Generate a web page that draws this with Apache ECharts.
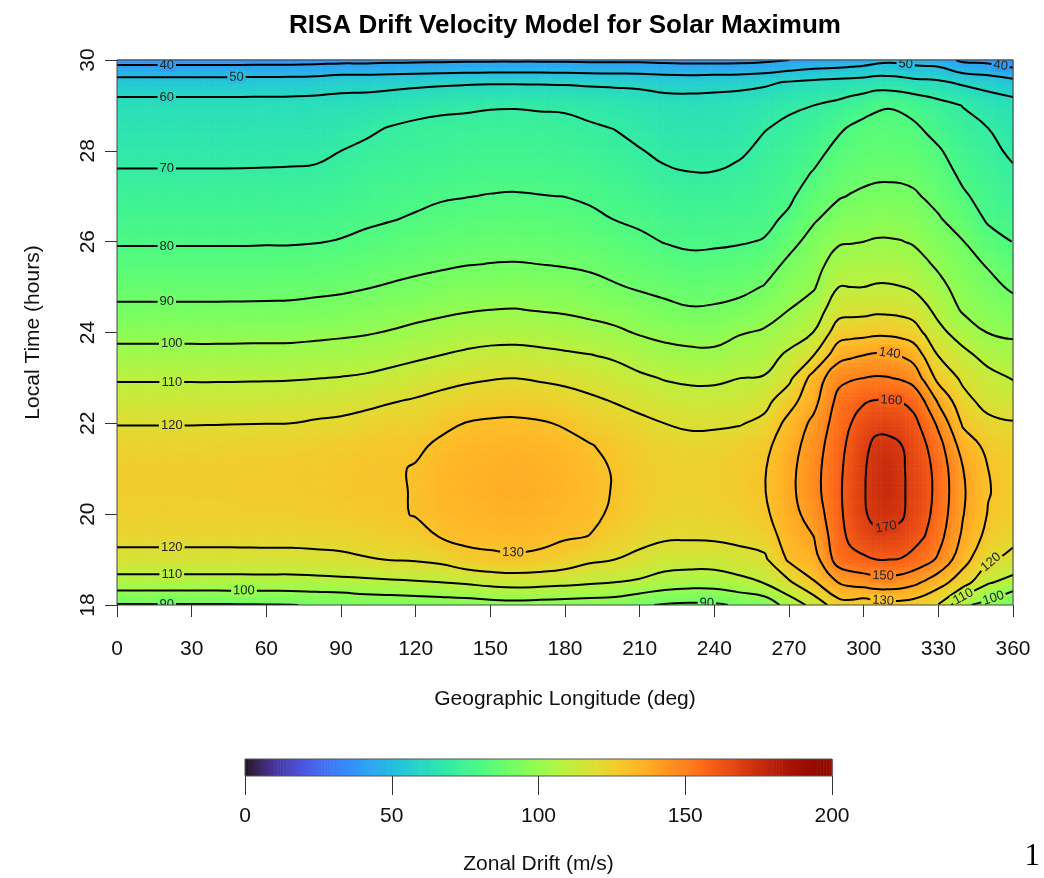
<!DOCTYPE html>
<html>
<head>
<meta charset="utf-8">
<title>RISA Drift Velocity Model for Solar Maximum</title>
<script src="https://cdn.jsdelivr.net/npm/echarts@6/dist/echarts.min.js"></script>
<style>
  html, body { margin: 0; padding: 0; background: #ffffff; }
  #chart { width: 1044px; height: 878px; }
</style>
</head>
<body>
<div id="chart"></div>
<script>
// Grid columns: geographic longitude (deg); finer spacing across the evening peak
const longitudes = [0, 10, 20, 30, 40, 50, 60, 70, 80, 90, 100, 110, 120, 130, 140, 150, 160, 170, 180,
                    190, 200, 210, 220, 230, 240, 250, 260, 270, 280, 290, 295, 300, 305, 310, 315, 320,
                    325, 330, 340, 350, 360];

// Grid rows: local time (hours)
const localTimes = [18, 18.5, 19, 19.5, 20, 20.5, 21, 21.5, 22, 22.5, 23, 23.5, 24,
                    24.5, 25, 25.5, 26, 26.5, 27, 27.5, 28, 28.5, 29, 29.5, 30];

// Zonal drift (m/s); one row per longitude, one value per local time (18 h ... 30 h)
const zonalDrift = [
  [89.3, 106.2, 117, 122.5, 125, 126, 126, 124, 119.6, 114.4, 109, 102.9, 97.1, 91.6, 87.1, 83, 79.3, 76.4, 73.6, 70.7, 67.6, 65.4, 63.2, 54.5, 35.9],
  [89.3, 106.2, 117, 122.5, 125, 126, 126, 124, 119.6, 114.4, 109, 102.9, 97.1, 91.6, 87.1, 83, 79.3, 76.4, 73.6, 70.7, 67.6, 65.4, 63.2, 54.5, 35.9],
  [89.3, 106.2, 117, 122.5, 125, 126, 126, 124, 119.6, 114.4, 109, 102.9, 97.1, 91.6, 87.1, 83, 79.3, 76.4, 73.6, 70.7, 67.6, 65.4, 63.2, 54.5, 35.9],
  [89.3, 106.2, 117, 122.5, 125, 126, 126, 124, 119.6, 114.4, 109, 102.9, 97.1, 91.6, 87.1, 83, 79.3, 76.4, 73.6, 70.7, 67.6, 65.4, 63.2, 54.5, 35.9],
  [89.3, 106.2, 117, 122.5, 125.1, 126.1, 126.1, 124.1, 119.7, 114.4, 109, 102.9, 97.1, 91.6, 87.1, 83, 79.3, 76.4, 73.6, 70.7, 67.6, 65.4, 63.2, 54.5, 36],
  [89.4, 106.2, 117, 122.6, 125.2, 126.3, 126.3, 124.3, 119.8, 114.5, 109.1, 103, 97.2, 91.7, 87.1, 83, 79.3, 76.4, 73.6, 70.7, 67.7, 65.5, 63.2, 54.6, 36],
  [89.6, 106.3, 117.1, 122.7, 125.4, 126.6, 126.6, 124.6, 119.9, 114.6, 109.2, 103.1, 97.2, 91.8, 87.2, 83.1, 79.4, 76.5, 73.7, 70.8, 67.8, 65.6, 63.3, 54.7, 36.1],
  [89.8, 106.3, 117, 122.8, 125.5, 126.8, 126.8, 124.8, 120, 114.7, 109.4, 103.2, 97.3, 92, 87.3, 83.2, 79.4, 76.6, 73.8, 70.9, 68, 65.7, 63.4, 54.8, 36.2],
  [90.5, 106.8, 117.5, 123, 126, 127.3, 127.3, 125.5, 121, 115.3, 109.8, 103.7, 97.9, 92.6, 87.9, 83.7, 79.7, 76.9, 74.1, 71.2, 68.3, 66, 63.5, 55.5, 36.5],
  [91, 107.4, 118, 123.5, 126.5, 128, 128, 126.3, 121.8, 116, 110.3, 104.3, 98.5, 93.3, 88.5, 84.5, 80.4, 77.7, 75.1, 72.6, 70, 66.8, 63.5, 57, 37],
  [93, 107.8, 119.3, 124.5, 127.5, 129, 129, 127.5, 123.5, 117.4, 111.2, 105.2, 99.3, 94.4, 89.6, 85.7, 81.7, 78.7, 76.3, 74, 71.6, 68.5, 64, 57, 37],
  [93.3, 108.5, 120.3, 125.5, 128.3, 128.9, 128.9, 128.3, 125, 119.3, 112.9, 106.6, 100.6, 95.6, 90.8, 86.9, 83.1, 79.6, 77.3, 75, 72.8, 70.5, 65, 57.5, 37.5],
  [94, 109.2, 120.9, 126.2, 130.6, 130.5, 130.6, 128.5, 124.6, 120.8, 114.7, 108.3, 102.2, 96.9, 92, 87.9, 84.4, 80.8, 78.2, 75.8, 73.4, 72, 66.5, 58, 37.8],
  [94.5, 110, 122.4, 130.3, 132.8, 133.5, 133.3, 131.5, 128, 122.7, 116.7, 110, 103.7, 98.1, 93.2, 88.8, 85.4, 82, 79.3, 76.5, 74, 72.5, 68, 58.5, 38],
  [95, 111.3, 126.5, 132.5, 134, 135, 134.8, 133.3, 130.2, 124.4, 118.3, 111.6, 105.3, 99.2, 94.4, 89.7, 86.3, 83, 79.8, 77.3, 74.9, 72.8, 68.5, 59, 38.3],
  [96, 113, 128.2, 132.5, 135, 136, 135.8, 134.3, 131.2, 125.5, 119.4, 112.7, 106.3, 100, 95.1, 90.2, 86.9, 83.6, 80.3, 77.7, 75.2, 73, 69.3, 59.3, 38.5],
  [96.5, 114, 128.7, 133, 135.5, 136.5, 136.3, 134.8, 131.5, 126, 119.9, 112.9, 106.6, 100.3, 95.3, 90.4, 87, 83.8, 80.5, 77.9, 75.3, 73.1, 69.4, 59.3, 38.5],
  [96, 113.5, 127.8, 132.5, 135, 136, 135.8, 134.2, 130.8, 125, 118.9, 112.3, 105.8, 99.5, 94.8, 90, 86.7, 83.5, 80.2, 77.6, 75, 72.8, 69, 59.2, 38.5],
  [95.5, 112.5, 125.5, 130.8, 133.5, 134.5, 134.2, 132.5, 129.2, 123.5, 117.9, 111.3, 104.8, 98.8, 94.1, 89.4, 86.2, 83.1, 79.9, 77.2, 74.6, 72.3, 68.8, 59, 38.3],
  [95, 111.3, 121.7, 129.8, 131.6, 132.2, 132, 130.5, 126.5, 121.7, 115.9, 110.3, 103.3, 97.6, 92.8, 88.5, 85.2, 81.7, 78.8, 76.2, 73.5, 71, 67.5, 58.5, 38],
  [94.5, 110, 120, 125.5, 128.8, 129.5, 129.4, 128, 124.5, 119.4, 114.2, 108.6, 101.7, 96.1, 90.8, 87, 83.4, 79.8, 77.3, 74.8, 72.3, 69.8, 66.5, 58.2, 38],
  [91, 108.6, 117.5, 123, 125.8, 127, 126.9, 125.5, 122.2, 117, 111.6, 105.5, 99.2, 94, 89.1, 85.5, 81.6, 78.5, 75.7, 73, 70.3, 68.2, 65.5, 57.8, 38],
  [89.3, 105.6, 114.9, 121.2, 123.8, 125, 125, 123.8, 120, 114.7, 109.4, 103.2, 97.5, 92.2, 87.7, 83.7, 79.7, 76.9, 74.1, 70.8, 68.8, 66.4, 64, 56.7, 37.5],
  [88.5, 104.3, 114.4, 121, 123.4, 124.5, 124.4, 123, 118.6, 113.6, 108.3, 102.2, 96.4, 90.7, 86.4, 82.2, 78.7, 75.9, 73, 70.2, 68, 65.8, 63.8, 56.5, 37],
  [88.8, 104.5, 114.5, 121.3, 124, 125.3, 125.2, 123.5, 118.6, 113.6, 108.3, 102, 96.6, 91.1, 86.7, 82.5, 78.9, 76.2, 73.4, 70.2, 68.2, 66, 64, 57, 37],
  [91, 107.2, 116.3, 122.5, 125.5, 127, 127, 125.2, 119.3, 114.6, 109.9, 104.7, 99.3, 92.8, 87.5, 84.1, 79.3, 76.8, 74, 71.6, 68.9, 66.6, 64.5, 57.5, 37],
  [93.5, 110.3, 118, 124.5, 128, 129.5, 129.3, 127.5, 122.3, 116.8, 110.6, 105.8, 101.1, 95.5, 90.5, 85.5, 80.5, 77.8, 75.5, 73.3, 71.7, 69.6, 66.5, 58.5, 38],
  [104, 118.5, 131.5, 134.5, 136.5, 137.5, 137.2, 135.7, 133.1, 126, 117.6, 111.8, 105, 100, 96.5, 92.1, 87, 81.5, 78.5, 76.2, 73.9, 71.6, 68.8, 61, 40],
  [113, 129.5, 135.5, 140, 144, 146.5, 146.5, 145, 142.3, 137, 134, 120, 110.2, 104.6, 99.2, 96.5, 93.5, 89, 84.5, 80.7, 77, 73.5, 70, 62.5, 42],
  [126, 140.5, 155, 157, 158, 158.5, 158, 157, 155, 153, 147.5, 136.5, 125.5, 116.3, 110, 104.4, 99, 94, 89.3, 86, 82.7, 78.7, 72.3, 63.5, 43],
  [126, 143, 157.5, 162, 164, 164.5, 164, 162.5, 160, 156.5, 149, 138.5, 126.5, 116.8, 110, 104.8, 99.5, 94.8, 90.5, 87, 83.8, 81, 74.3, 64, 44],
  [124, 144.5, 158.5, 165.5, 169, 169.3, 169.1, 167.5, 164.5, 159, 150, 140, 127, 117, 110, 105, 100, 95.5, 91.5, 87.8, 84.8, 83, 76, 64.5, 45],
  [126, 146, 160, 168, 172.5, 174, 173.5, 172.5, 167, 160.3, 150.8, 141.3, 128, 118, 110.8, 105.8, 100.7, 96.3, 92.2, 88.5, 85.5, 83.5, 78.5, 65.5, 47],
  [126.5, 146, 160, 167.8, 173, 176, 175.5, 172.5, 167, 160.2, 150.4, 141.3, 127.8, 117.8, 110.8, 105.8, 100.7, 96.5, 92.3, 88.6, 85.6, 83, 79.5, 65, 48],
  [126.5, 145, 159.5, 167, 171.5, 171.5, 171.5, 170.5, 165.5, 159.8, 149, 139.5, 126.8, 117.2, 110.2, 105.2, 100.3, 96.2, 92, 88.5, 85.4, 82.6, 78.8, 64.3, 47.5],
  [125.5, 142.5, 157, 163.5, 166.3, 167.2, 166.8, 165, 162.5, 157.2, 146, 136.5, 124.5, 115.8, 108.8, 103.8, 99.2, 95.2, 91.2, 87.8, 84.7, 81.5, 77, 63, 46],
  [123, 138.5, 153.5, 159.5, 162.3, 163.2, 162.7, 160.5, 156.5, 148.8, 137, 128, 118.5, 111.7, 105.8, 101.2, 97, 93, 89.3, 86, 82.9, 79.2, 75, 62.5, 45.5],
  [119.5, 134, 148.5, 153.5, 156, 157, 156.5, 154, 148, 138.5, 127, 119.5, 112.7, 107.3, 102.7, 98.5, 94.6, 90.8, 87.4, 84.2, 81, 76.6, 73, 61.9, 45],
  [101.5, 124.6, 133.5, 138, 140.3, 141, 140, 135.5, 128.5, 123, 118, 112.7, 105.5, 98.7, 95.9, 93, 90.2, 85.7, 81.2, 78, 75.2, 72.5, 69.7, 58.6, 38],
  [97, 111, 121.8, 127, 129.5, 130.5, 130, 127.5, 122.5, 116.4, 113.2, 106.5, 99.7, 95.3, 92.5, 89.3, 83.4, 78.8, 76.6, 74.4, 72.2, 70, 65.6, 56.5, 37],
  [89.5, 106.8, 116.8, 122.8, 125.3, 126.3, 126.3, 124.5, 120.6, 115.1, 109.4, 103.8, 98.4, 93.3, 88.7, 84.2, 79.8, 77, 74.2, 71.2, 68.5, 66.1, 63.8, 53.5, 33]
];

// Contour levels (m/s)
const contourLevels = [40, 50, 60, 70, 80, 90, 100, 110, 120, 130, 140, 150, 160, 170];

// Where each contour label sits: [level, longitude, local time]
const contourLabelSpots = [
  [40, 20, 29.88], [50, 48, 29.62], [60, 20, 29.18], [70, 20, 27.62], [80, 20, 25.87],
  [90, 20, 24.64], [100, 22, 23.74], [110, 22, 22.92], [120, 22, 21.96], [120, 22, 19.25],
  [110, 22, 18.64], [100, 51, 18.27], [90, 20, 18.0], [130, 159, 19.12], [90, 237, 18.03],
  [50, 317, 29.95], [40, 355, 29.88], [140, 310.6, 23.57], [160, 311, 22.4], [170, 309, 19.7],
  [150, 307.8, 18.6], [130, 307.8, 18.11], [120, 349.6, 19.14], [110, 338, 18.4], [100, 352, 18.17]
];

// Colour scale range of the drift (m/s)
const driftRange = [0, 200];

const FONT = '"Liberation Sans", Arial, Helvetica, sans-serif';

// Turbo colour map (polynomial fit), t in [0, 1]
function turbo(t) {
  const x = Math.max(0, Math.min(1, t));
  const r = 0.13572138 + x * (4.61539260 + x * (-42.66032258 + x * (132.13108234 + x * (-152.94239396 + x * 59.28637943))));
  const g = 0.09140261 + x * (2.19418839 + x * (4.84296658 + x * (-14.18503333 + x * (4.27729857 + x * 2.82956604))));
  const b = 0.10667330 + x * (12.64194608 + x * (-60.58204836 + x * (110.36276771 + x * (-89.90310912 + x * 27.34824973))));
  const c = v => Math.round(255 * Math.max(0, Math.min(1, v)));
  return 'rgb(' + c(r) + ',' + c(g) + ',' + c(b) + ')';
}
function driftColor(v) {
  return turbo((v - driftRange[0]) / (driftRange[1] - driftRange[0]));
}

// Marching squares: trace the iso-lines of one level through the drift grid
function traceLevel(level) {
  const nx = longitudes.length, ny = localTimes.length;
  const crossPts = {};
  const segs = [];
  const val = (i, j) => zonalDrift[i][j];
  function edge(id, i0, j0, i1, j1) {
    if (!crossPts[id]) {
      const a = val(i0, j0), b = val(i1, j1);
      const f = (level - a) / (b - a);
      crossPts[id] = [
        longitudes[i0] + f * (longitudes[i1] - longitudes[i0]),
        localTimes[j0] + f * (localTimes[j1] - localTimes[j0])
      ];
    }
    return id;
  }
  for (let i = 0; i < nx - 1; i++) {
    for (let j = 0; j < ny - 1; j++) {
      const c = [val(i, j), val(i + 1, j), val(i + 1, j + 1), val(i, j + 1)];
      const hi = c.map(v => v >= level);
      const ends = [
        ['h' + i + '_' + j, i, j, i + 1, j],
        ['v' + (i + 1) + '_' + j, i + 1, j, i + 1, j + 1],
        ['h' + i + '_' + (j + 1), i, j + 1, i + 1, j + 1],
        ['v' + i + '_' + j, i, j, i, j + 1]
      ];
      const crossing = [0, 1, 2, 3].filter(k => hi[k] !== hi[(k + 1) % 4]);
      if (crossing.length === 2) {
        segs.push([edge(...ends[crossing[0]]), edge(...ends[crossing[1]])]);
      } else if (crossing.length === 4) {
        const centreHi = (c[0] + c[1] + c[2] + c[3]) / 4 >= level;
        for (let k = 0; k < 4; k++) {
          if (hi[k] !== centreHi) segs.push([edge(...ends[(k + 3) % 4]), edge(...ends[k])]);
        }
      }
    }
  }
  const adj = {};
  segs.forEach((s, k) => {
    (adj[s[0]] = adj[s[0]] || []).push(k);
    (adj[s[1]] = adj[s[1]] || []).push(k);
  });
  const used = new Array(segs.length).fill(false);
  const lines = [];
  function extend(chain) {
    for (;;) {
      const last = chain[chain.length - 1];
      const next = (adj[last] || []).find(k => !used[k]);
      if (next === undefined) break;
      used[next] = true;
      const s = segs[next];
      chain.push(s[0] === last ? s[1] : s[0]);
    }
  }
  for (let k = 0; k < segs.length; k++) {
    if (used[k]) continue;
    used[k] = true;
    const chain = [segs[k][0], segs[k][1]];
    extend(chain);
    chain.reverse();
    extend(chain);
    const closed = chain.length > 3 && chain[0] === chain[chain.length - 1];
    if (closed) chain.pop();
    lines.push({ level: level, closed: closed, points: chain.map(id => crossPts[id]) });
  }
  return lines;
}

const contourLines = [];
contourLevels.forEach(level => traceLevel(level).forEach(ln => contourLines.push(ln)));

// Drop pixel points that sit almost on top of the previous one
function thinPoints(pts) {
  const out = [];
  pts.forEach(p => {
    const q = out[out.length - 1];
    if (!q || Math.hypot(p[0] - q[0], p[1] - q[1]) > 3) out.push(p);
  });
  return out;
}

// One quad between neighbouring grid nodes
const fieldQuads = [];
for (let i = 0; i < longitudes.length - 1; i++) {
  for (let j = 0; j < localTimes.length - 1; j++) {
    fieldQuads.push([longitudes[i], localTimes[j], i, j]);
  }
}

// Colour-bar steps along the drift scale
const colourSteps = [];
for (let v = driftRange[0]; v < driftRange[1]; v++) colourSteps.push([v, 0]);

const SHADE_STEPS = 6;

const chart = echarts.init(document.getElementById('chart'), null, { renderer: 'canvas' });

const axisText = { fontFamily: FONT, fontSize: 21, color: '#111' };

const option = {
  animation: false,
  backgroundColor: '#ffffff',
  title: {
    text: 'RISA Drift Velocity Model for Solar Maximum',
    left: 560,
    top: 8,
    textAlign: 'center',
    textStyle: { fontFamily: FONT, fontSize: 26, fontWeight: 'bold', color: '#000' }
  },
  grid: [
    { left: 117, right: 31, top: 60, bottom: 273, show: false, containLabel: false, outerBoundsMode: 'none' },
    { left: 245, width: 587, top: 759, height: 17, show: false, containLabel: false, outerBoundsMode: 'none' }
  ],
  xAxis: [
    {
      gridIndex: 0, type: 'value', min: 0, max: 360, interval: 30,
      name: 'Geographic Longitude (deg)', nameLocation: 'middle', nameGap: 84,
      nameTextStyle: axisText,
      axisLine: { show: false },
      axisTick: { show: true, length: 12, lineStyle: { color: '#333', width: 1 } },
      axisLabel: Object.assign({ margin: 34 }, axisText),
      splitLine: { show: false }
    },
    {
      gridIndex: 1, type: 'value', min: 0, max: 200, interval: 50,
      name: 'Zonal Drift (m/s)', nameLocation: 'middle', nameGap: 78,
      nameTextStyle: axisText,
      axisLine: { show: false },
      axisTick: { show: true, length: 19, lineStyle: { color: '#333', width: 1 } },
      axisLabel: Object.assign({ margin: 30 }, axisText),
      splitLine: { show: false }
    }
  ],
  yAxis: [
    {
      gridIndex: 0, type: 'value', min: 18, max: 30, interval: 2,
      name: 'Local Time (hours)', nameLocation: 'middle', nameGap: 73,
      nameTextStyle: axisText,
      axisLine: { show: false },
      axisTick: { show: true, length: 12, lineStyle: { color: '#333', width: 1 } },
      axisLabel: Object.assign({ margin: 18, rotate: 90 }, axisText),
      splitLine: { show: false }
    },
    { gridIndex: 1, type: 'value', min: 0, max: 1, show: false }
  ],
  graphic: [
    {
      type: 'text', right: 4, bottom: 6,
      style: { text: '1', font: '31px "Liberation Serif", "DejaVu Serif", serif', fill: '#000' }
    }
  ],
  series: [
    {
      // shaded drift field
      type: 'custom', xAxisIndex: 0, yAxisIndex: 0, z: 1, silent: true,
      data: fieldQuads,
      renderItem: function (params, api) {
        const i = api.value(2), j = api.value(3);
        const v00 = zonalDrift[i][j], v10 = zonalDrift[i + 1][j];
        const v01 = zonalDrift[i][j + 1], v11 = zonalDrift[i + 1][j + 1];
        const pA = api.coord([longitudes[i], localTimes[j]]);
        const pB = api.coord([longitudes[i + 1], localTimes[j + 1]]);
        const nu = Math.max(3, Math.round((pB[0] - pA[0]) / 4));
        const w = (pB[0] - pA[0]) / nu, h = (pA[1] - pB[1]) / SHADE_STEPS;
        const children = [];
        for (let a = 0; a < nu; a++) {
          for (let b = 0; b < SHADE_STEPS; b++) {
            const u = (a + 0.5) / nu, v = (b + 0.5) / SHADE_STEPS;
            const value = v00 * (1 - u) * (1 - v) + v10 * u * (1 - v) + v01 * (1 - u) * v + v11 * u * v;
            children.push({
              type: 'rect',
              shape: { x: pA[0] + a * w, y: pA[1] - (b + 1) * h - 0.6, width: w + 0.6, height: h + 0.6 },
              style: { fill: driftColor(value) }
            });
          }
        }
        return { type: 'group', children: children };
      }
    },
    {
      // contour lines
      type: 'custom', xAxisIndex: 0, yAxisIndex: 0, z: 3, silent: true, clip: true,
      data: contourLines.map((ln, k) => [ln.points[0][0], ln.points[0][1], k]),
      renderItem: function (params, api) {
        const ln = contourLines[api.value(2)];
        const pts = thinPoints(ln.points.map(p => api.coord(p)));
        return {
          type: ln.closed ? 'polygon' : 'polyline',
          shape: { points: pts, smooth: 0.45 },
          style: { fill: 'none', stroke: '#000', lineWidth: 2 }
        };
      }
    },
    {
      // contour labels
      type: 'custom', xAxisIndex: 0, yAxisIndex: 0, z: 4, silent: true, clip: true,
      data: contourLabelSpots.map(s => [s[1], s[2], s[0]]),
      renderItem: function (params, api) {
        const level = api.value(2);
        const target = api.coord([api.value(0), api.value(1)]);
        let best = null;
        contourLines.forEach(ln => {
          if (ln.level !== level) return;
          const pts = thinPoints(ln.points.map(p => api.coord(p)));
          if (ln.closed) pts.push(pts[0]);
          for (let k = 0; k < pts.length - 1; k++) {
            const a = pts[k], b = pts[k + 1];
            const dx = b[0] - a[0], dy = b[1] - a[1];
            const len2 = dx * dx + dy * dy || 1e-9;
            let f = ((target[0] - a[0]) * dx + (target[1] - a[1]) * dy) / len2;
            f = Math.max(0, Math.min(1, f));
            const p = [a[0] + f * dx, a[1] + f * dy];
            const d = Math.hypot(p[0] - target[0], p[1] - target[1]);
            if (!best || d < best.d) {
              const pa = pts[Math.max(0, k - 1)], pb = pts[Math.min(pts.length - 1, k + 2)];
              best = { d: d, p: p, a: pa, b: pb };
            }
          }
        });
        if (!best) return null;
        let ang = Math.atan2(-(best.b[1] - best.a[1]), best.b[0] - best.a[0]);
        if (ang > Math.PI / 2) ang -= Math.PI;
        if (ang < -Math.PI / 2) ang += Math.PI;
        return {
          type: 'text',
          x: best.p[0], y: best.p[1], rotation: ang,
          style: {
            text: String(level),
            font: '13px ' + FONT,
            fill: '#222',
            align: 'center',
            verticalAlign: 'middle',
            backgroundColor: driftColor(level),
            padding: [0, 2]
          }
        };
      }
    },
    {
      // plot frame
      type: 'custom', xAxisIndex: 0, yAxisIndex: 0, z: 5, silent: true,
      data: [[0, 18]],
      renderItem: function (params, api) {
        const p0 = api.coord([0, 30]), p1 = api.coord([360, 18]);
        return {
          type: 'rect',
          shape: { x: p0[0], y: p0[1], width: p1[0] - p0[0], height: p1[1] - p0[1] },
          style: { fill: 'none', stroke: '#444', lineWidth: 1 }
        };
      }
    },
    {
      // colour bar
      type: 'custom', xAxisIndex: 1, yAxisIndex: 1, z: 1, silent: true,
      data: colourSteps,
      renderItem: function (params, api) {
        const v = api.value(0);
        const p0 = api.coord([v, 1]), p1 = api.coord([v + 1, 0]);
        return {
          type: 'rect',
          shape: { x: p0[0], y: p0[1], width: p1[0] - p0[0] + 0.6, height: p1[1] - p0[1] },
          style: { fill: driftColor(v + 0.5) }
        };
      }
    },
    {
      // colour bar frame
      type: 'custom', xAxisIndex: 1, yAxisIndex: 1, z: 5, silent: true,
      data: [[0, 0]],
      renderItem: function (params, api) {
        const p0 = api.coord([driftRange[0], 1]), p1 = api.coord([driftRange[1], 0]);
        return {
          type: 'rect',
          shape: { x: p0[0], y: p0[1], width: p1[0] - p0[0], height: p1[1] - p0[1] },
          style: { fill: 'none', stroke: '#555', lineWidth: 1 }
        };
      }
    }
  ]
};

chart.setOption(option);
</script>
</body>
</html>
